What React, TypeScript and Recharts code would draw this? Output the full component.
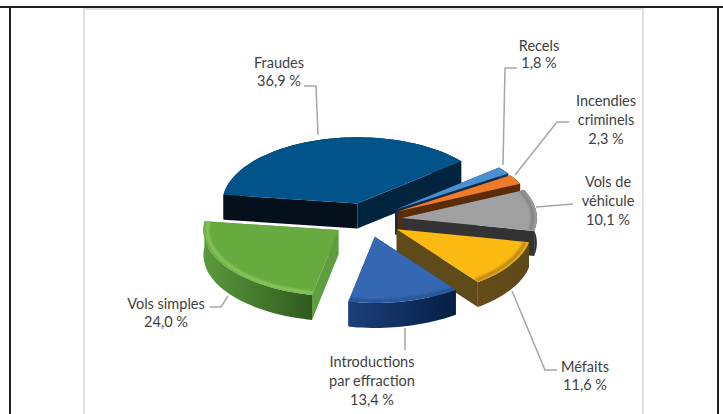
import { PieChart, Pie, Cell } from 'recharts';

// Clockwise from the far left, so the far slices get painted first
const categories = ['Fraudes', 'Recels', 'Incendies criminels', 'Vols de véhicule', 'Méfaits', 'Introductions par effraction', 'Vols simples'];
const shares = [36.9, 1.8, 2.3, 10.1, 11.6, 13.4, 24.0];
const labelLines = [
  ['Fraudes', '36,9 %'],
  ['Recels', '1,8 %'],
  ['Incendies', 'criminels', '2,3 %'],
  ['Vols de', 'véhicule', '10,1 %'],
  ['Méfaits', '11,6 %'],
  ['Introductions', 'par effraction', '13,4 %'],
  ['Vols simples', '24,0 %'],
];

const tableData = categories.map((name, i) => ({ name, value: shares[i] }));

// Label placement, one entry per slice
const labelCenters = [279, 539, 606, 608, 585, 372, 166];
const labelTops = [62, 45, 100, 181, 366, 361, 303];
const labelSteps = [18, 17, 19, 19, 18, 19, 18];
const leaders = [
  '304,86 316,86 318,135',
  '517,68 505,68 503,165',
  '569,122 557,122 515,175',
  '573,204 536,207',
  '557,370 545,370 512,291',
  '405,350 405,328',
  '210,307 221,307 228,296',
];

// Slice styling
const topColors = ['#01548a', '#4a90d2', '#ee7a2a', '#a0a0a0', '#fcba13', '#3568b3', '#66aa40'];
const wallFrom = ['#04101b', '#16466f', '#5c2c08', '#343434', '#654c18', '#1d3f7a', '#5a9a3c'];
const wallTo = ['#02263f', '#0c2c49', '#5c2c08', '#2c2c2c', '#5f4819', '#051f45', '#2f5a1f'];
const startFaces = ['#04101b', '#0c2c49', '#5c2c08', '#333333', '#5f4a1a', '#1a3a6e', '#5f9e3e'];
const endFaces = ['#02243f', '#0c2c49', '#5c2c08', '#333333', '#5f4a1a', '#1a3a6e', '#5f9e3e'];
const rimColors = ['#01548a', '#4a90d2', '#ee7a2a', '#7c7c7c', '#a8791a', '#23508f', '#94cc60'];

const TILT = 0.49;
const EXPLODE = 0.26;
const DEPTH = 25;

function SliceShape(props: any) {
  const { cx, cy, outerRadius, startAngle, endAngle, midAngle, index } = props;
  const rad = (a: number) => (a * Math.PI) / 180;
  const ox = EXPLODE * Math.cos(rad(midAngle));
  const oy = EXPLODE * Math.sin(rad(midAngle));

  const project = (angle: number, r: number, z: number) => {
    const fx = r * Math.cos(rad(angle)) + ox;
    const fy = r * Math.sin(rad(angle)) + oy;
    return [cx + outerRadius * fx, cy - outerRadius * TILT * fy + z];
  };
  const arc = (r: number, z: number, from = startAngle, to = endAngle) => {
    const steps = Math.max(2, Math.ceil(Math.abs(to - from) / 2));
    const pts: number[][] = [];
    for (let k = 0; k <= steps; k++) pts.push(project(from + ((to - from) * k) / steps, r, z));
    return pts;
  };
  const toPath = (pts: number[][], close = true) =>
    'M' + pts.map((p) => p[0].toFixed(1) + ' ' + p[1].toFixed(1)).join('L') + (close ? 'Z' : '');

  const apex = project(startAngle, 0, 0);
  const apexLow = project(startAngle, 0, DEPTH);
  const startEdge = project(startAngle, 1, 0);
  const startEdgeLow = project(startAngle, 1, DEPTH);
  const endEdge = project(endAngle, 1, 0);
  const endEdgeLow = project(endAngle, 1, DEPTH);
  const wall = [...arc(1, 0), ...arc(1, DEPTH).reverse()];
  const gradId = `wall-${index}`;
  const blurId = `rim-${index}`;
  const clipId = `top-${index}`;
  const topPath = toPath([apex, ...arc(1, 0)]);

  return (
    <g>
      <defs>
        <linearGradient id={gradId} x1="0" y1="0" x2="1" y2="0">
          <stop offset="0%" stopColor={wallFrom[index]} />
          <stop offset="100%" stopColor={wallTo[index]} />
        </linearGradient>
        <filter id={blurId} x="-20%" y="-20%" width="140%" height="140%">
          <feGaussianBlur stdDeviation={1.2} />
        </filter>
        <clipPath id={clipId}>
          <path d={topPath} />
        </clipPath>
      </defs>
      <path d={toPath([apex, startEdge, startEdgeLow, apexLow])} fill={startFaces[index]} />
      <path d={toPath([apex, endEdge, endEdgeLow, apexLow])} fill={endFaces[index]} />
      <path d={toPath(wall)} fill={`url(#${gradId})`} />
      <path d={topPath} fill={topColors[index]} />
      <g clipPath={`url(#${clipId})`}>
        <path d={toPath(arc(0.97, 0), false)} fill="none" stroke={rimColors[index]} strokeWidth={3.5} strokeOpacity={0.8} filter={`url(#${blurId})`} />
      </g>
    </g>
  );
}

function renderLabel(props: any) {
  const { index } = props;
  return (
    <g key={index}>
      <polyline points={leaders[index]} fill="none" stroke="#a6a6a6" strokeWidth={1.5} />
      <text textAnchor="middle" fontFamily="Lato" fontSize={14.5} fill="#404040">
        {labelLines[index].map((line, k) => (
          <tspan key={k} x={labelCenters[index]} y={labelTops[index] + k * labelSteps[index]} dominantBaseline="central">
            {line}
          </tspan>
        ))}
      </text>
    </g>
  );
}

export default function App() {
  return (
    <div style={{ position: 'absolute', left: 0, top: 0, width: 723, height: 414, background: '#fff', overflow: 'hidden' }}>
      <div style={{ position: 'absolute', left: 0, top: 6, width: 723, height: 2, background: '#231f20' }} />
      <div style={{ position: 'absolute', left: 9, top: 7, width: 2, height: 407, background: '#231f20' }} />
      <div style={{ position: 'absolute', left: 717, top: 7, width: 2, height: 407, background: '#231f20' }} />
      <div style={{ position: 'absolute', left: 83, top: 8, width: 2, height: 406, background: '#e0e2e0' }} />
      <div style={{ position: 'absolute', left: 83, top: 8, width: 561, height: 2, background: '#e0e2e0' }} />
      <div style={{ position: 'absolute', left: 642, top: 8, width: 2, height: 406, background: '#e0e2e0' }} />
      <div style={{ position: 'absolute', left: 0, top: 0 }}>
        <PieChart width={723} height={414} margin={{ top: 0, right: 0, bottom: 0, left: 0 }}>
          <Pie
            data={tableData}
            dataKey="value"
            nameKey="name"
            cx={367}
            cy={220}
            innerRadius={0}
            outerRadius={135}
            startAngle={172.4}
            endAngle={-187.6}
            paddingAngle={0}
            stroke="none"
            shape={SliceShape}
            label={renderLabel}
            labelLine={false}
            isAnimationActive={false}
          >
            {tableData.map((entry, index) => (
              <Cell key={`cell-${index}`} fill={topColors[index]} />
            ))}
          </Pie>
        </PieChart>
      </div>
    </div>
  );
}
